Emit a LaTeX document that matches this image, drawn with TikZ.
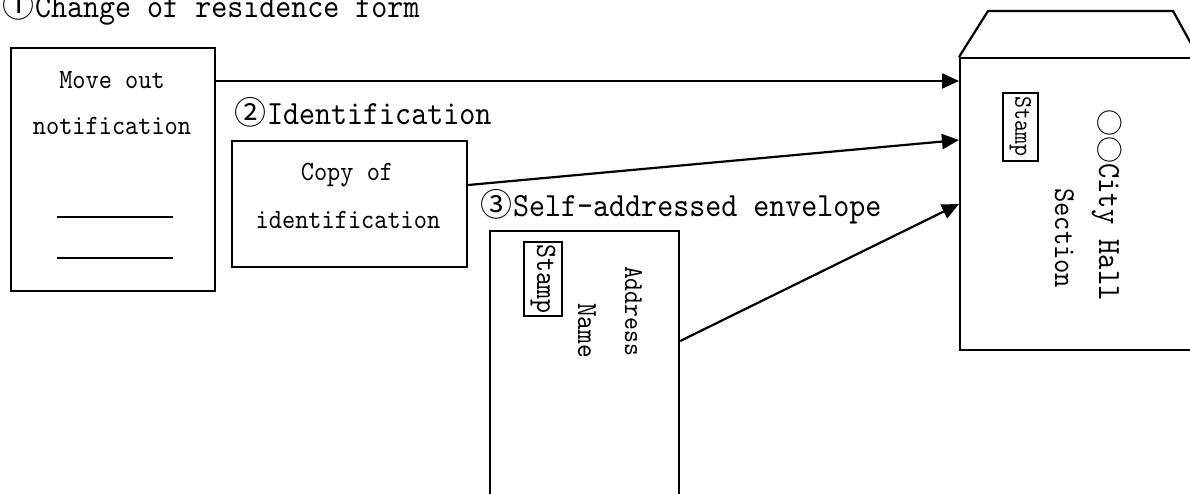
\documentclass[tikz,border=0pt]{standalone}
\usepackage{fontspec}
\usetikzlibrary{arrows.meta}
\newfontfamily\jmono[Extension=.otf, FakeStretch=0.9]{lmmono10-regular}
\newfontfamily\cjk{Noto Sans CJK JP}
\newcommand{\fs}[1]{\fontsize{#1}{#1}\selectfont}
\newcommand{\circnum}[1]{\makebox[33pt][l]{\cjk\fs{32}#1}}
\begin{document}
\begin{tikzpicture}[x=1pt,y=-1pt, line width=2.2pt,
  doc/.style={draw, anchor=north west, inner sep=0pt},
  lbl/.style={inner sep=0pt, anchor=base west, font=\jmono\fs{33.9}},
  boxtxt/.style={inner sep=0pt, anchor=base, font=\jmono\fs{27.9}},
  vtxt/.style={inner sep=0pt, rotate=-90, anchor=base west},
  stampbox/.style={draw, line width=1.8pt, rotate=-90, inner sep=0pt},
  arr/.style={-{Triangle[length=17pt,width=15pt]}}]
\useasboundingbox (0,0) rectangle (1190,494);
% title labels
\node[lbl] (lab1) at (1,18) {\circnum{①}Change of residence form};
\node[lbl] (lab2) at (233,125) {\circnum{②}Identification};
\node[lbl] (lab3) at (479,217) {\circnum{③}Self-addressed envelope};
% form
\node[doc, minimum width=204pt, minimum height=243pt] (form) at (10,47) {};
\node[boxtxt] (mo) at (112,89) {Move out};
\node[boxtxt] (nt) at (112,135) {notification};
\draw (57,217) -- (173,217);
\draw (57,258) -- (173,258);
% identification
\node[doc, minimum width=235pt, minimum height=126pt] (idbox) at (231,140) {};
\node[boxtxt] (cp) at (347,181) {Copy of};
\node[boxtxt] (idt) at (348,229) {identification};
% self-addressed envelope
\node[doc, minimum width=189pt, minimum height=300pt] (env) at (489,230) {};
\node[stampbox, minimum width=74pt, minimum height=38pt, font=\jmono\fs{29.6}] (st1) at (543,279) {Stamp};
\node[vtxt, font=\jmono\fs{27.3}] (addr) at (625,265) {Address};
\node[vtxt, font=\jmono\fs{29.1}] (nm) at (578,302) {Name};
% city hall envelope
\node[doc, minimum width=300pt, minimum height=292pt] (city) at (959,57) {};
\draw (city.north west) -- (988,11) -- (1173,11) -- (1200,60);
\node[stampbox, minimum width=68pt, minimum height=35pt, font=\jmono\fs{25.4}] (st2) at (1020.5,127) {Stamp};
\node[vtxt, font=\jmono\fs{32.4}] (ch) at (1099,108) {{\cjk\fs{27}○○}City Hall};
\node[vtxt, font=\jmono\fs{30.3}] (sec) at (1055,187) {Section};
% arrows
\draw[arr] ([yshift=-34pt]form.north east) -- ([yshift=-24pt]city.north west);
\draw[arr] ([yshift=-45pt]idbox.north east) -- ([yshift=-83pt]city.north west);
\draw[arr] ([yshift=-111pt]env.north east) -- ([yshift=-147pt]city.north west);
\end{tikzpicture}
\end{document}
